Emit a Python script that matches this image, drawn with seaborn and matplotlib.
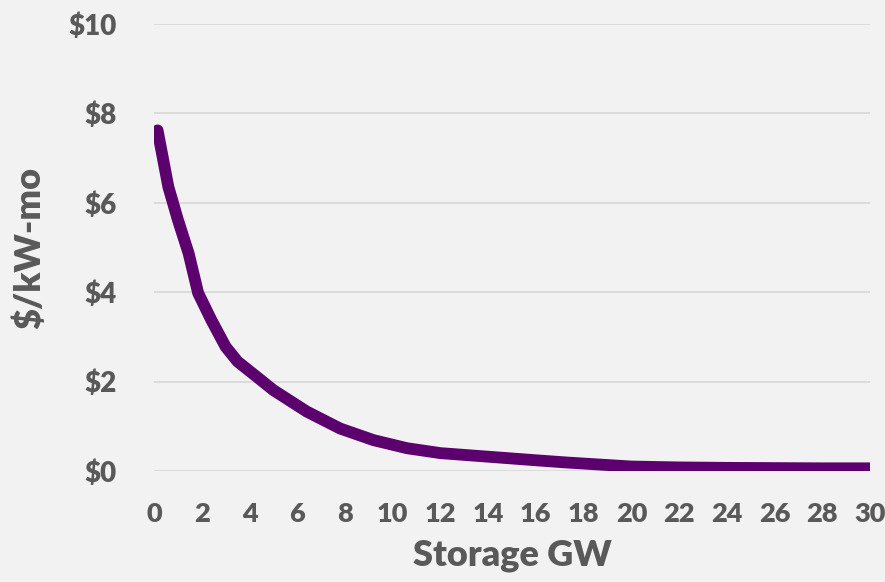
import matplotlib
matplotlib.use("Agg")
import matplotlib.pyplot as plt
import seaborn as sns
import pandas as pd

# storage capacity (GW) vs value ($/kW-mo)
storage_gw = [0.15, 0.6, 1.0, 1.45, 1.85, 2.4, 3.0, 3.5, 4.3, 5.0, 6.4, 7.8, 9.2,
              10.6, 12, 14, 16, 17.3, 20, 22, 24, 26, 28, 30]
value = [7.62, 6.36, 5.62, 4.87, 3.98, 3.38, 2.78, 2.45, 2.11, 1.81, 1.33, 0.95,
         0.69, 0.51, 0.40, 0.32, 0.24, 0.19, 0.10, 0.08, 0.07, 0.065, 0.06, 0.06]
y_ticks = [0, 2, 4, 6, 8, 10]
x_ticks = list(range(0, 31, 2))

df = pd.DataFrame({"storage": storage_gw, "value": value})

sns.set_style("white")
plt.rcParams["font.family"] = ["Lato", "DejaVu Sans"]
grey = "#595959"

fig = plt.figure(figsize=(8.85, 5.82), dpi=100, facecolor="#f2f2f2")
ax = fig.add_axes([154 / 885, 1 - 471 / 582, (870 - 154) / 885, (471 - 24) / 582])
ax.set_facecolor("#f2f2f2")

sns.lineplot(data=df, x="storage", y="value", ax=ax, color="#5c006e",
             linewidth=8.5, solid_capstyle="round", solid_joinstyle="round")

ax.set_xlim(0, 30)
ax.set_ylim(0, 10)
ax.set_yticks(y_ticks)
ax.set_yticklabels([f"${v}" for v in y_ticks])
ax.set_xticks(x_ticks)
ax.grid(axis="y", color="#d9d9d9", linewidth=1.3)
ax.set_axisbelow(True)
for s in ax.spines.values():
    s.set_visible(False)
ax.tick_params(axis="y", length=0, labelsize=20, labelcolor=grey, pad=27)
ax.tick_params(axis="x", length=0, labelsize=19.5, labelcolor=grey, pad=22)
for lab in ax.get_xticklabels() + ax.get_yticklabels():
    lab.set_fontweight("heavy")

ax.set_xlabel("Storage GW", fontsize=26, fontweight="heavy", color=grey, labelpad=10)
ax.set_ylabel("$/kW-mo", fontsize=26, fontweight="heavy", color=grey, labelpad=16)

fig.savefig("out.png", dpi=100, facecolor=fig.get_facecolor())
